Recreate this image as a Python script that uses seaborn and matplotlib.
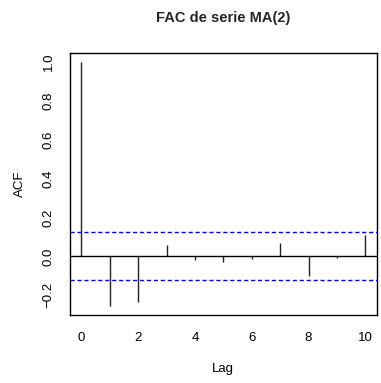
import numpy as np
import pandas as pd
import matplotlib
matplotlib.use("Agg")
import matplotlib.pyplot as plt
import seaborn as sns

# Sample autocorrelations of the simulated MA(2) series
lags = [0, 1, 2, 3, 4, 5, 6, 7, 8, 9, 10]
acf_values = [1.0, -0.256, -0.235, 0.058, -0.020, -0.029, -0.012, 0.070, -0.103, -0.010, 0.110]
conf_bound = 0.124  # approx. 1.96 / sqrt(n)

x_ticks = [0, 2, 4, 6, 8, 10]
y_ticks = [-0.2, 0.0, 0.2, 0.4, 0.6, 0.8, 1.0]
y_tick_labels = ["\u22120.2", "0.0", "0.2", "0.4", "0.6", "0.8", "1.0"]

df = pd.DataFrame({"Lag": lags, "ACF": acf_values})

sns.set_theme(style="white")
plt.rcParams["font.family"] = ["Liberation Sans", "DejaVu Sans"]

fig = plt.figure(figsize=(3.81, 3.83), dpi=100)
ax = fig.add_axes([0.1837, 0.1775, 0.805, 0.6849])

# ACF spikes
ax.vlines(df["Lag"], 0, df["ACF"], colors="#222222", linewidth=1.0)
# zero line
ax.axhline(0, color="black", linewidth=1.0)

# confidence bands
band = pd.DataFrame({"x": [-0.4, 10.4], "hi": [conf_bound] * 2, "lo": [-conf_bound] * 2})
sns.lineplot(data=band, x="x", y="hi", ax=ax, color="blue", linestyle=(0, (3, 2)), linewidth=1.0)
sns.lineplot(data=band, x="x", y="lo", ax=ax, color="blue", linestyle=(0, (3, 2)), linewidth=1.0)

ax.set_xlim(-0.4, 10.4)
ax.set_ylim(-0.302, 1.048)

ax.set_xticks(x_ticks)
ax.set_xticklabels([str(t) for t in x_ticks])
ax.set_yticks(y_ticks)
ax.set_yticklabels(y_tick_labels, rotation=90, va="center")

ax.tick_params(axis="both", which="both", direction="out", length=6, width=0.9,
               color="black", labelsize=9.5, labelcolor="black")
ax.tick_params(axis="x", pad=6)
ax.tick_params(axis="y", pad=5)

for s in ax.spines.values():
    s.set_visible(True)
    s.set_color("black")
    s.set_linewidth(1.0)

ax.set_xlabel("Lag", fontsize=9.5, color="black", labelpad=14)
ax.set_ylabel("ACF", fontsize=9.5, color="black", labelpad=12)
fig.suptitle("FAC de serie MA(2)", fontsize=10.5, fontweight="bold", x=0.585, y=0.972)

fig.savefig("out.png", dpi=100, facecolor="white")
